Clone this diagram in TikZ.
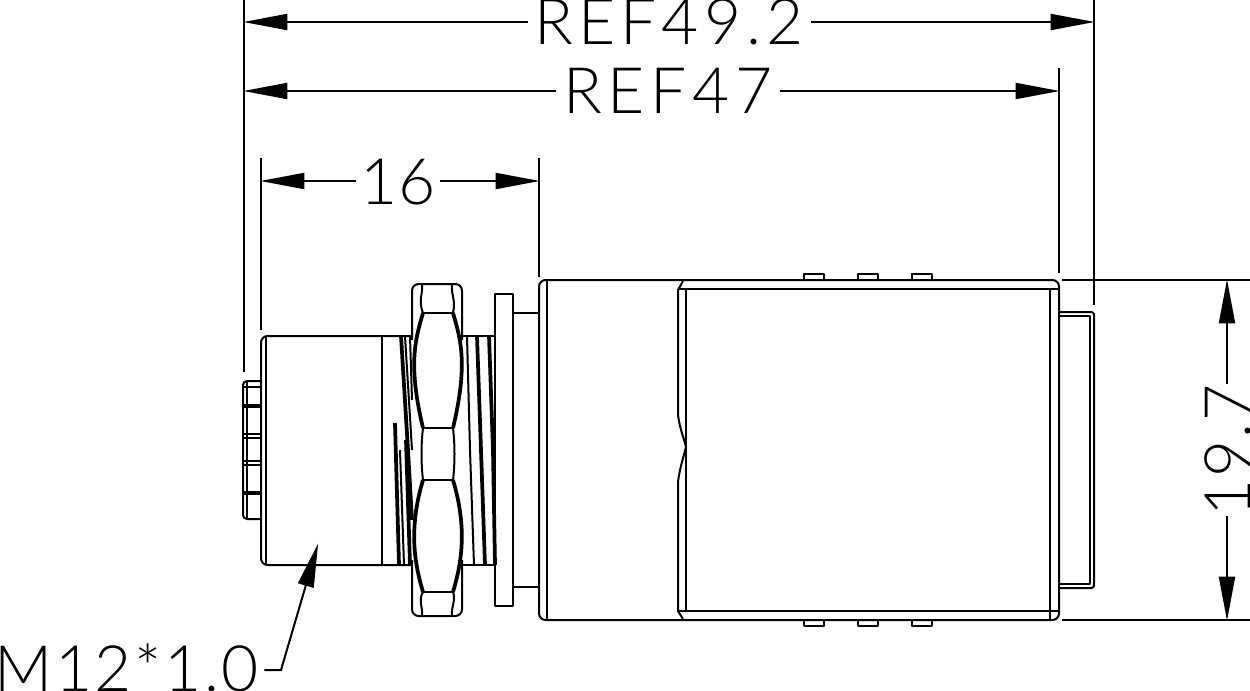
\documentclass[tikz,border=0pt]{standalone}
\usepackage{fontspec}
\setmainfont{Lato Light}[LetterSpace=9]
\usetikzlibrary{arrows.meta}
\tikzstyle{part} = [line width=1.5pt, line join=round]
\tikzstyle{thread} = [line width=2.8pt]
\tikzstyle{dimline} = [line width=1.5pt, -{Triangle[length=33pt,width=12pt]}, shorten >=-0.5pt]
\tikzstyle{extline} = [line width=1.5pt]
\tikzstyle{dimlabel} = [inner ysep=0pt, inner xsep=5pt, anchor=base, font=\fontsize{48}{48}\selectfont]

\begin{document}
\begin{tikzpicture}[x=0.75pt,y=-0.75pt]
\useasboundingbox (0,0) rectangle (1250,690);
\coordinate (e1a) at (244,-5);
\coordinate (e1b) at (244,372);
\coordinate (e2a) at (1094,-5);
\coordinate (e2b) at (1094,305);
\coordinate (e3a) at (1059,68);
\coordinate (e3b) at (1059,273);
\coordinate (e4a) at (261,158);
\coordinate (e4b) at (261,330);
\coordinate (e5a) at (539,158);
\coordinate (e5b) at (539,277);
\coordinate (e6a) at (1062,280);
\coordinate (e6b) at (1250,280);
\coordinate (e7a) at (1062,620);
\coordinate (e7b) at (1250,620);
\draw[extline] (e1a) -- (e1b);
\draw[extline] (e2a) -- (e2b);
\draw[extline] (e3a) -- (e3b);
\draw[extline] (e4a) -- (e4b);
\draw[extline] (e5a) -- (e5b);
\draw[extline] (e6a) -- (e6b);
\draw[extline] (e7a) -- (e7b);

\coordinate (a1) at (244,22);
\coordinate (a2) at (1094,22);
\coordinate (b1) at (244,91);
\coordinate (b2) at (1059,91);
\coordinate (c1) at (261,181);
\coordinate (c2) at (539,181);
\coordinate (d1) at (1227,280);
\coordinate (d2) at (1227,620);
\coordinate (m1) at (318,544);
\coordinate (m2) at (281,670);

\node[dimlabel] (ref49) at (669,44) {\addfontfeature{LetterSpace=8}REF49.2};
\node[dimlabel] (ref47) at (668,113) {REF47};
\node[dimlabel, inner xsep=3pt] (len16) at (398,204) {\addfontfeature{LetterSpace=1}16};
\node[dimlabel, rotate=90, anchor=base, inner xsep=0pt] (dia) at (1250,450) {\addfontfeature{LetterSpace=3}19.7};
\node[dimlabel, anchor=base west, inner xsep=4pt] (thread) at (-11,691) {\addfontfeature{LetterSpace=4}M12*1.0};

\draw[dimline] (ref49.west |- a1) -- (a1);
\draw[dimline] (ref49.east |- a2) -- (a2);
\draw[dimline] (ref47.west |- b1) -- (b1);
\draw[dimline] (ref47.east |- b2) -- (b2);
\draw[dimline] (len16.west |- c1) -- (c1);
\draw[dimline] (len16.east |- c2) -- (c2);
\draw[dimline] (d1 |- dia.east) -- (d1);
\draw[dimline] (d2 |- dia.west) -- (d2);
\draw[dimline] (thread.east |- m2) -- (m2) -- (m1);

\draw[part, rounded corners=5pt] (539,280) rectangle (1059,620);
\draw[part] (547,281) -- (547,619);
\draw[part] (1050,289) -- (1050,620);
\draw[part] (683,281) -- (678,290) -- (678,415) .. controls (680,430) and (684,438) .. (686,447) .. controls (684,456) and (680,466) .. (678,482) -- (678,611) -- (683,619);
\draw[part] (686,289) -- (686,611);
\draw[part] (678,289) -- (1059,289);
\draw[part] (678,611) -- (1059,611);

\draw[part] (804,280) -- (804,274) -- (824,274) -- (824,280);
\draw[part] (858,280) -- (858,274) -- (878,274) -- (878,280);
\draw[part] (912,280) -- (912,274) -- (932,274) -- (932,280);
\draw[part] (804,620) -- (804,626) -- (824,626) -- (824,620);
\draw[part] (858,620) -- (858,626) -- (878,626) -- (878,620);
\draw[part] (912,620) -- (912,626) -- (932,626) -- (932,620);

\draw[part, rounded corners=2pt] (1059,312) -- (1094,312) -- (1094,588) -- (1059,588);
\draw[part] (1059,316) -- (1090,316) -- (1090,584) -- (1059,584);

\draw[part] (513,313) -- (539,313);
\draw[part] (513,587) -- (539,587);
\draw[part] (495,294) rectangle (513,606);

\draw[part, rounded corners=5pt] (411,336) -- (261,336) -- (261,565) -- (411,565);
\draw[part] (266,336) -- (266,565);
\draw[part] (382,336) -- (382,565);
\draw[part] (463,336) -- (495,336);
\draw[part] (463,565) -- (495,565);

\draw[part, rounded corners=3pt] (261,381) -- (243,381) -- (243,519) -- (261,519);
\draw[part] (247,381) -- (247,519);
\draw[part] (243,387) -- (261,387);
\draw[thread] (243,406) -- (261,406);
\draw[part] (243,434) -- (261,434);
\draw[part] (243,438) -- (261,438);
\draw[part] (243,461) -- (261,461);
\draw[part] (243,465) -- (261,465);
\draw[thread] (243,493) -- (261,493);

\draw[thread] (401,336) -- (408,450) -- (412,520);
\draw[part] (405,336) -- (412,450);
\draw[part] (410,336) -- (412,400);
\draw[thread] (395,423) -- (399,565);
\draw[part] (400,450) -- (404,565);
\draw[thread] (406,440) -- (410,565);
\draw[part] (467,336) -- (470,450) -- (474,565);
\draw[thread] (477,336) -- (481,450) -- (485,565);
\draw[thread] (489,336) -- (493,450) -- (495,565);

\draw[part, rounded corners=5pt] (412,340) -- (412,284) -- (462,284) -- (462,340);
\draw[part, rounded corners=5pt] (412,560) -- (412,616) -- (462,616) -- (462,560);
\draw[part] (423,313) -- (453,313);
\draw[part] (423,428) -- (453,428);
\draw[part] (423,480) -- (453,480);
\draw[part] (423,592) -- (453,592);
\draw[part] (422,285) .. controls (423,295) and (418,300) .. (423,313);
\draw[part] (452,285) .. controls (451,295) and (456,300) .. (453,313);
\draw[thread] (423,313) .. controls (415,340) and (408,365) .. (423,428);
\draw[thread] (453,313) .. controls (461,340) and (468,365) .. (453,428);
\draw[part] (423,428) .. controls (421,445) and (421,463) .. (423,480);
\draw[part] (453,428) .. controls (455,445) and (455,463) .. (453,480);
\draw[thread] (423,480) .. controls (408,530) and (415,565) .. (423,592);
\draw[thread] (453,480) .. controls (468,530) and (461,565) .. (453,592);
\draw[part] (423,592) .. controls (418,600) and (423,608) .. (422,615);
\draw[part] (453,592) .. controls (456,600) and (451,608) .. (452,615);
\end{tikzpicture}
\end{document}
